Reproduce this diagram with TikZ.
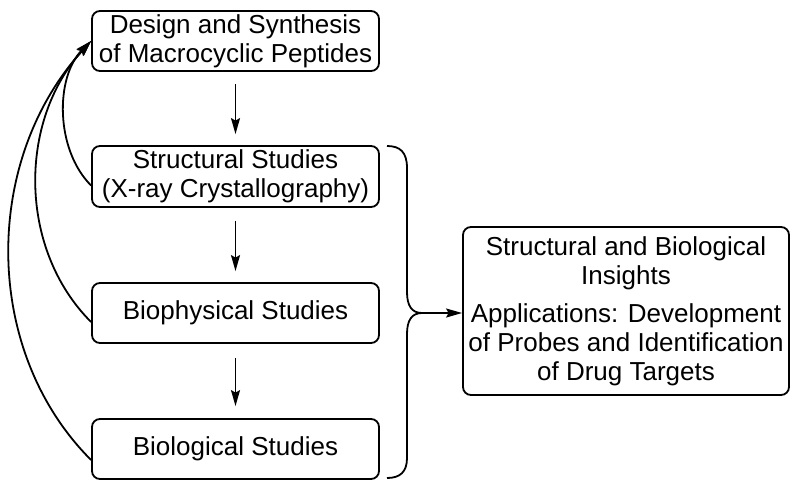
\documentclass[tikz,border=0pt]{standalone}
\usepackage{fontspec}
\setmainfont{Liberation Sans}
\usetikzlibrary{arrows.meta}
\begin{document}
\begin{tikzpicture}[x=1pt,y=-1pt,
  line width=1.8pt,
  stepbox/.style={draw, rounded corners=8pt, minimum width=287pt, minimum height=60pt,
    inner sep=0pt, align=center, font=\fontsize{26}{29}\selectfont},
  arr/.style={-{Stealth[length=16pt,width=9pt,inset=2.5pt]}}]
\useasboundingbox (0,0) rectangle (800,490);
\node[stepbox] (b1) at (235.5,41) {Design and Synthesis\\of Macrocyclic Peptides};
\node[stepbox, minimum height=61pt] (b2) at (235.5,176.5) {Structural Studies\\(X-ray Crystallography)};
\node[stepbox] (b3) at (235.5,313) {Biophysical Studies};
\node[stepbox] (b4) at (235.5,449) {Biological Studies};
\node[stepbox, minimum width=326pt, minimum height=168pt] (r) at (626,311)
  {Structural and Biological\\Insights\\[9pt]Applications: Development\\of Probes and Identification\\of Drug Targets};
\draw[arr, shorten <=12pt, shorten >=11pt] (b1) -- (b2);
\draw[arr, shorten <=13pt, shorten >=11pt] (b2) -- (b3);
\draw[arr, shorten <=14pt, shorten >=12pt] (b3) -- (b4);
\draw[arr] ([yshift=-9pt]b2.west) .. controls +(-36,-36) and +(-36,36) .. (b1.west);
\draw[arr] ([yshift=-9pt]b3.west) .. controls +(-73,-73) and +(-73,80) .. (b1.west);
\draw[arr] ([yshift=-11pt]b4.west) .. controls +(-109,-109) and +(-109,120) .. (b1.west);
\coordinate (tip) at (422,313);
\draw (387,146) .. controls (400,146) and (407,152) .. (407,168) -- (407,292)
  .. controls (407,306) and (412,313) .. (tip)
  .. controls (412,313) and (407,320) .. (407,334) -- (407,458)
  .. controls (407,472) and (400,478) .. (387,478);
\draw[arr] (tip) -- (tip -| r.west);
\end{tikzpicture}
\end{document}
